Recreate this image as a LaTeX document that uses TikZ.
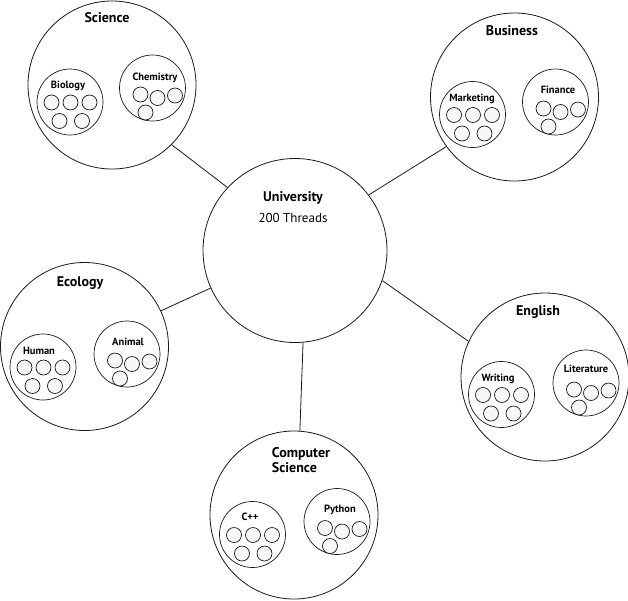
\documentclass[tikz,border=0pt]{standalone}
\usepackage{fontspec}
\setmainfont{PT Sans}
\usetikzlibrary{calc}
\definecolor{threadgray}{HTML}{F7F7F7}
\definecolor{inkgray}{HTML}{1A1A1A}

\begin{document}
\begin{tikzpicture}[x=1pt, y=-1pt,
  hub/.style={circle, draw=inkgray, line width=0.8pt, minimum size=184pt, inner sep=0pt},
  dept/.style={circle, draw=inkgray, line width=0.8pt, minimum size=168pt, inner sep=0pt},
  topic/.style={circle, draw=inkgray, line width=0.7pt, minimum size=66pt, inner sep=0pt},
  thread/.style={circle, draw=inkgray, line width=0.7pt, fill=threadgray,
                 minimum size=15pt, inner sep=0pt},
  title/.style={font=\fontsize{14}{15}\selectfont\bfseries, align=left, inner sep=0pt},
  sublabel/.style={font=\fontsize{10.5}{11}\selectfont\bfseries, inner sep=0pt},
  link/.style={line width=0.8pt, draw=inkgray},
]
  \fill[white] (0,0) rectangle (628,600);
  \useasboundingbox (0,0) rectangle (628,600);

  % University --------------------------------------------------------------
  \node[hub] (uni) at (295,250.5) {};
  \node[title] (unititle) at (293,198) {University};
  \node[font=\fontsize{13}{14}\selectfont, inner sep=0pt] (unithreads) at (293,218) {200 Threads};

  % Departments -------------------------------------------------------------
  \node[dept] (sci) at (112,85) {};
  \node[dept] (bus) at (514.5,97) {};
  \node[dept] (eco) at (84.5,346.5) {};
  \node[dept] (eng) at (545,377) {};
  \node[dept] (cs)  at (294,515) {};
  \node[title] (scititle) at (107,18) {Science};
  \node[title] (bustitle) at (512,31) {Business};
  \node[title] (ecotitle) at (80,283) {Ecology};
  \node[title] (engtitle) at (538,312) {English};
  \node[title] (cstitle)  at (301,460.5) {Computer\\Science};

  \draw[link] (uni.137)   -- (sci.-45.5);
  \draw[link] (uni.37.5)  -- (bus.216.5);
  \draw[link] (uni.204)   -- (eco.25.5);
  \draw[link] (uni.-19)   -- (eng.155);
  \draw[link] (uni.-85.7) -- (cs.86.5);

  % Topics ------------------------------------------------------------------
  \node[topic] (bio) at (70,102) {};
  \node[topic] (chem) at (152.5,88) {};
  \node[topic] (mkt) at (472.5,114.5) {};
  \node[topic] (fin) at (555.5,102) {};
  \node[topic] (hum) at (43,367) {};
  \node[topic] (ani) at (127,354) {};
  \node[topic] (wri) at (501.5,394.5) {};
  \node[topic] (lit) at (586,383) {};
  \node[topic] (cpp) at (252.5,534.5) {};
  \node[topic] (py) at (337,521.5) {};

  \node[sublabel] (biotxt) at (68,86) {Biology};
  \node[sublabel] (chemtxt) at (155,78) {Chemistry};
  \node[sublabel] (mkttxt) at (472,99) {Marketing};
  \node[sublabel] (fintxt) at (558,90) {Finance};
  \node[sublabel] (humtxt) at (39,351) {Human};
  \node[sublabel] (anitxt) at (128,342) {Animal};
  \node[sublabel] (writxt) at (498,379) {Writing};
  \node[sublabel] (littxt) at (586,369) {Literature};
  \node[sublabel] (cpptxt) at (250,517) {C++};
  \node[sublabel] (pytxt) at (340,510) {Python};

  % Threads -----------------------------------------------------------------
  \foreach \t in {bio,mkt,hum,wri,cpp}
    \foreach \dx/\dy [count=\i] in {-18.5/0.5, 0.5/0.5, 19.5/0.5, -10.5/19, 12/19}
      \node[thread] (\t\i) at ($(\t)+(\dx,\dy)$) {};
  \foreach \t in {chem,fin,ani,lit,py}
    \foreach \dx/\dy [count=\i] in {-12/6.5, 5/10, 22.5/7.5, -7/24.5}
      \node[thread] (\t\i) at ($(\t)+(\dx,\dy)$) {};
\end{tikzpicture}
\end{document}
